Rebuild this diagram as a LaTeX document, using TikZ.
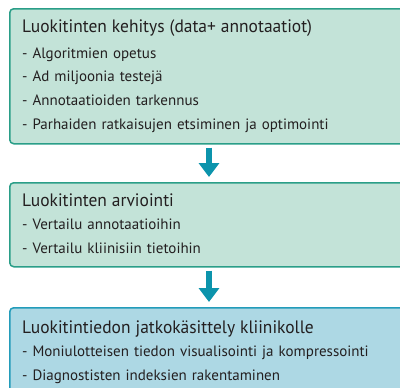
\documentclass[tikz,border=0pt]{standalone}
\usepackage{fontspec}
\setmainfont[FakeStretch=1.0]{PT Sans}
\newfontfamily\headfont[FakeStretch=0.97]{PT Sans}
\usetikzlibrary{calc,arrows.meta}
\definecolor{greenfill}{HTML}{C3E3D8}
\definecolor{greenline}{HTML}{2A9E88}
\definecolor{bluefill}{HTML}{ADD8E4}
\definecolor{blueline}{HTML}{239CBA}
\definecolor{arrowteal}{HTML}{0C94AC}
\definecolor{inktext}{HTML}{231F20}
\tikzset{
  box/.style={draw, rounded corners=4pt, line width=1.5pt, minimum width=401pt, anchor=north west, inner sep=0pt},
  greenbox/.style={box, draw=greenline, fill=greenfill},
  bluebox/.style={box, draw=blueline, fill=bluefill},
  boxtext/.style={anchor=base west, inner sep=0pt, text width=378pt, align=left, text=inktext, font=\fontsize{15}{24}\selectfont},
  flow/.style={draw=arrowteal, line width=6pt, -{Triangle[width=20pt,length=14pt]}},
}
\newcommand{\boxhead}[1]{{\headfont\fontsize{18}{24}\selectfont #1}}

\begin{document}
\begin{tikzpicture}[x=1pt, y=-1pt]

	\useasboundingbox (0,0) rectangle (400,388);
	\clip (0,0) rectangle (400,388);

	% Boxes
	\node[greenbox, minimum height=135pt] (kehitys) at (9,8) {};
	\node[greenbox, minimum height=84pt] (arviointi) at (9,182) {};
	\node[bluebox, minimum height=100pt] (jatko) at (9,307) {};

	% Texts
	\node[boxtext] (kehitys-t) at ($(kehitys.north west)+(13,25)$) {\boxhead{Luokitinten kehitys (data+ annotaatiot)}\\[1pt]
		- Algoritmien opetus\\
		- Ad miljoonia testejä\\
		- Annotaatioiden tarkennus\\
		- Parhaiden ratkaisujen etsiminen ja optimointi};
	\node[boxtext] (arviointi-t) at ($(arviointi.north west)+(13,24)$) {\boxhead{Luokitinten arviointi}\\
		- Vertailu annotaatioihin\\
		- Vertailu kliinisiin tietoihin};
	\node[boxtext] (jatko-t) at ($(jatko.north west)+(13,26)$) {\boxhead{Luokitintiedon jatkokäsittely kliinikolle}\\
		- Moniulotteisen tiedon visualisointi ja kompressointi\\
		- Diagnostisten indeksien rakentaminen};

	% Arrows
	\coordinate (axis) at (209,0);
	\draw[flow] ([yshift=-3pt]kehitys.south -| axis) -- ([yshift=5pt]arviointi.north -| axis);
	\draw[flow] ([yshift=-3pt]arviointi.south -| axis) -- ([yshift=5pt]jatko.north -| axis);

\end{tikzpicture}
\end{document}
